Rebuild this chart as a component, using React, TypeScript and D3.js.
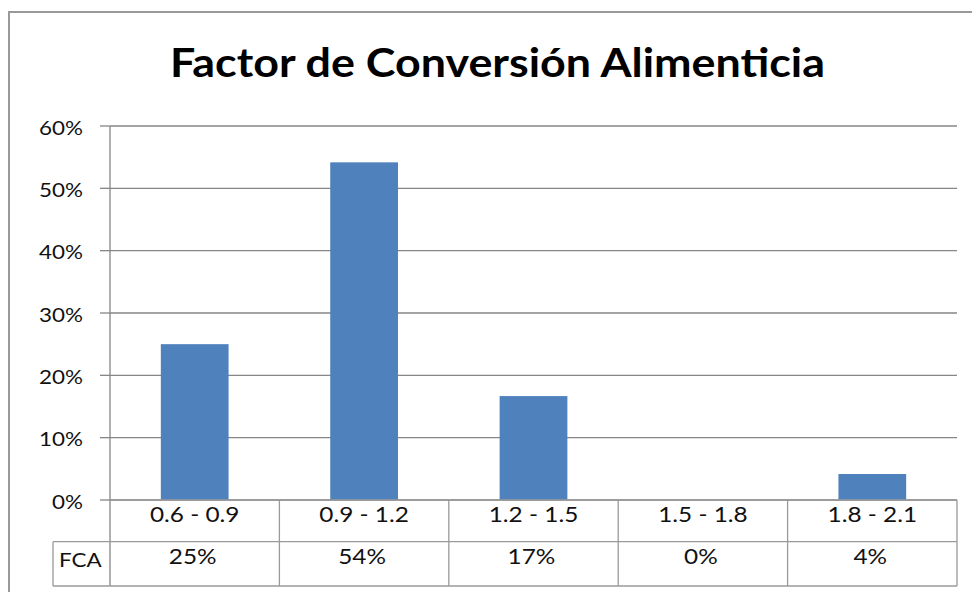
import React from "react";
import * as d3 from "d3";

const categories = ["0.6 - 0.9", "0.9 - 1.2", "1.2 - 1.5", "1.5 - 1.8", "1.8 - 2.1"];
const values = [0.25, 0.5417, 0.1667, 0, 0.0417];
const tableLabels = ["25%", "54%", "17%", "0%", "4%"];
const yTicks = [0, 0.1, 0.2, 0.3, 0.4, 0.5, 0.6];
const seriesName = "FCA";
const title = "Factor de Conversión Alimenticia";

const W = 972;
const H = 592;
const FONT = "Lato, 'Open Sans', sans-serif";

export default function App() {
  const left = 110;
  const right = 957;
  const top = 126;
  const bottom = 500;
  const row1 = 541.7;
  const row2 = 586;
  const tableLeft = 53;

  const x = d3.scaleBand<string>().domain(categories).range([left, right]).padding(0);
  const y = d3.scaleLinear().domain([0, 0.6]).range([bottom, top]);
  const bw = x.bandwidth();
  const barW = bw * 0.4;
  const fmt = d3.format(".0%");

  const gridColor = "#868686";
  const tableColor = "#9a9a9a";

  return (
    <svg
      width={W}
      height={H}
      style={{ position: "absolute", left: 0, top: 0, display: "block", background: "#fff" }}
    >
      <rect x={0} y={0} width={W} height={H} fill="#fff" />
      <rect x={9} y={12} width={W + 20} height={H + 20} fill="#fff" stroke="#999" strokeWidth={2} />

      <text
        x={170}
        y={77}
        fontFamily={FONT}
        fontWeight="bold"
        fontSize={40}
        textLength={655}
        lengthAdjust="spacingAndGlyphs"
        fill="#000"
      >
        {title}
      </text>

      {yTicks.map((t) => (
        <g key={t}>
          <line x1={left} x2={right} y1={y(t)} y2={y(t)} stroke={gridColor} strokeWidth={1.3} />
          <line x1={left - 10} x2={left} y1={y(t)} y2={y(t)} stroke={gridColor} strokeWidth={1.3} />
          <text
            transform={`translate(83,${y(t) + 1}) scale(1.18,1)`}
            textAnchor="end"
            dominantBaseline="central"
            fontFamily={FONT}
            fontSize={19}
            fill="#111"
          >
            {fmt(t)}
          </text>
        </g>
      ))}

      {categories.map((c, i) => (
        <rect
          key={c}
          x={(x(c) as number) + (bw - barW) / 2}
          y={y(values[i])}
          width={barW}
          height={bottom - y(values[i])}
          fill="#4F81BD"
        />
      ))}

      <line x1={left} x2={left} y1={top} y2={row2} stroke={gridColor} strokeWidth={1.3} />

      {/* data table */}
      <line x1={left} x2={right} y1={bottom} y2={bottom} stroke={tableColor} strokeWidth={1.3} />
      <line x1={tableLeft} x2={right} y1={row1} y2={row1} stroke={tableColor} strokeWidth={1.3} />
      <line x1={tableLeft} x2={right} y1={row2} y2={row2} stroke={tableColor} strokeWidth={1.3} />
      <line x1={tableLeft} x2={tableLeft} y1={row1} y2={row2} stroke={tableColor} strokeWidth={1.3} />
      {categories.map((c) => (
        <line
          key={"d" + c}
          x1={(x(c) as number) + bw}
          x2={(x(c) as number) + bw}
          y1={bottom}
          y2={row2}
          stroke={tableColor}
          strokeWidth={1.3}
        />
      ))}
      {categories.map((c) => (
        <text
          key={"c" + c}
          transform={`translate(${(x(c) as number) + bw / 2},514) scale(1.16,1)`}
          textAnchor="middle"
          dominantBaseline="central"
          fontFamily={FONT}
          fontSize={21}
          fill="#111"
        >
          {c}
        </text>
      ))}
      {categories.map((c, i) => (
        <text
          key={"v" + c}
          transform={`translate(${(x(c) as number) + bw / 2 - 2},556) scale(1.16,1)`}
          textAnchor="middle"
          dominantBaseline="central"
          fontFamily={FONT}
          fontSize={21}
          fill="#111"
        >
          {tableLabels[i]}
        </text>
      ))}
      <text
        transform={`translate(59,559) scale(1.12,1)`}
        dominantBaseline="central"
        fontFamily={FONT}
        fontSize={20}
        fill="#111"
      >
        {seriesName}
      </text>
    </svg>
  );
}
